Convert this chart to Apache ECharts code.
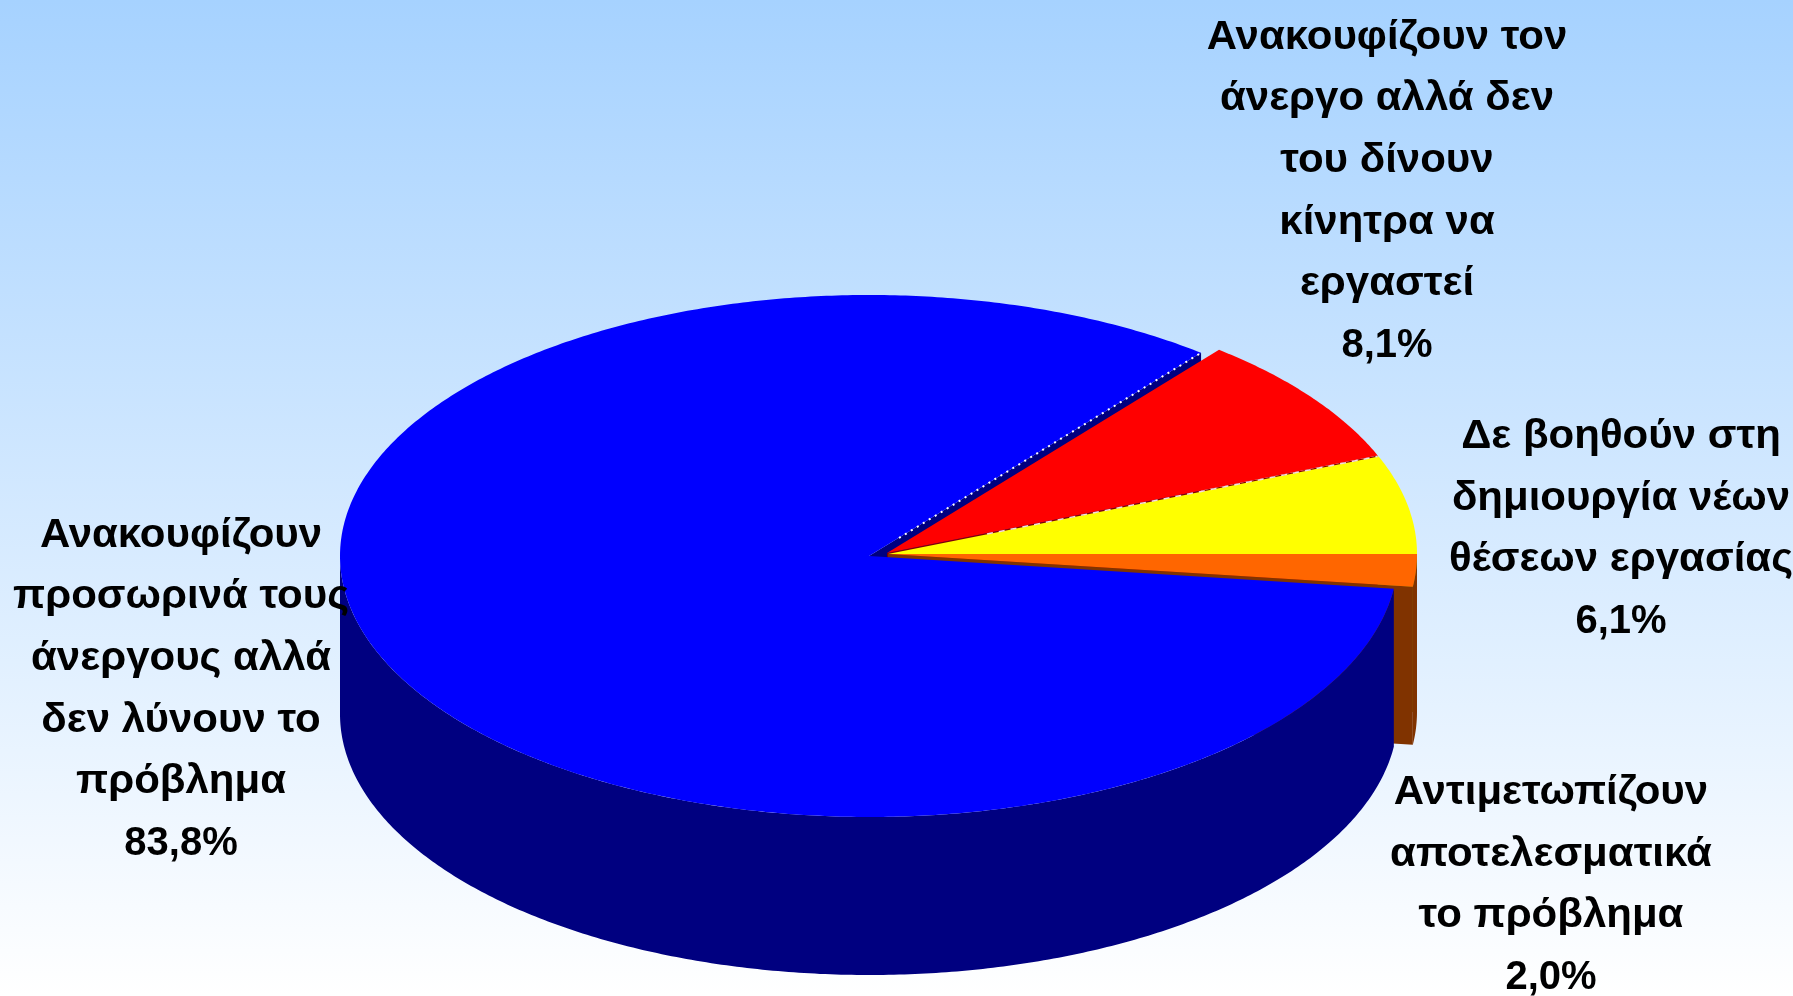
<!DOCTYPE html>
<html><head><meta charset="utf-8">
<style>html,body{margin:0;padding:0;background:#fff}#c{width:1793px;height:996px}</style>
<script src="https://cdn.jsdelivr.net/npm/echarts@6/dist/echarts.min.js"></script>
</head><body><div id="c"></div>
<script>
const categories = [
  'Αντιμετωπίζουν\nαποτελεσματικά\nτο πρόβλημα',
  'Ανακουφίζουν\nπροσωρινά τους\nάνεργους αλλά\nδεν λύνουν το\nπρόβλημα',
  'Ανακουφίζουν τον\nάνεργο αλλά δεν\nτου δίνουν\nκίνητρα να\nεργαστεί',
  'Δε βοηθούν στη\nδημιουργία νέων\nθέσεων εργασίας'
];
const values = [2.0, 83.8, 8.1, 6.1];

// appearance only
const topColors  = ['#ff6600', '#0000ff', '#ff0000', '#ffff00'];
const wallColors = ['#803300', '#000080', '#800000', '#808000'];
const centers = [[888, 554], [869, 556], [887, 553], [888, 554]];
const labelX = [1551, 181, 1387, 1621];
const labelLastLineY = [978, 844, 346, 622];   // centre of the percent line
const LINE = 61.7, RX = 529, RY = 261, DEPTH = 158;

const total = values.reduce((a, b) => a + b, 0);
function sweep(i) {
  let s = 0;
  for (let k = 0; k < i; k++) s += values[k];
  return [s / total * 2 * Math.PI, (s + values[i]) / total * 2 * Math.PI];
}
function rim(c, t, dy) { return [c[0] + RX * Math.cos(t), c[1] + RY * Math.sin(t) + (dy || 0)]; }
function arc(c, a, b, dy) {
  const n = Math.max(2, Math.ceil((b - a) / 0.01)), pts = [];
  for (let k = 0; k <= n; k++) pts.push(rim(c, a + (b - a) * k / n, dy));
  return pts;
}
const empty = { type: 'group', children: [] };
function cutWall(i) {
  const c = centers[i], e = rim(c, sweep(i)[1]);
  return { type: 'polygon', shape: { points: [[c[0], c[1]], e, [e[0], e[1] + DEPTH], [c[0], c[1] + DEPTH]] }, style: { fill: wallColors[i] } };
}
function outerWall(i) {
  const c = centers[i], s = sweep(i), a = s[0], b = Math.min(s[1], Math.PI);
  if (a >= Math.PI) return empty;
  return { type: 'polygon', shape: { points: arc(c, a, b, 0).concat(arc(c, a, b, DEPTH).reverse()) }, style: { fill: wallColors[i] } };
}
function topItem(params) {
  const i = params.dataIndex, c = centers[i], s = sweep(i);
  return { type: 'polygon', shape: { points: [[c[0], c[1]]].concat(arc(c, s[0], s[1], 0)) }, style: { fill: topColors[i] } };
}
function edgeItem(params) {
  const i = params.dataIndex, c = centers[i], s = sweep(i), e = rim(c, s[1]);
  if (i === 1) return { type: 'line', shape: { x1: c[0] + 30, y1: c[1] - 18, x2: e[0], y2: e[1] }, style: { stroke: '#ffffff', lineWidth: 2, lineDash: [2, 5] } };
  if (i === 2) return { type: 'line', shape: { x1: c[0] + 100, y1: c[1] - 19, x2: e[0], y2: e[1] + 1 }, style: { stroke: '#f4dede', lineWidth: 1.5, lineDash: [6, 6] } };
  return empty;
}
function labelItem(params, api) {
  const i = params.dataIndex, x = labelX[i], yLast = labelLastLineY[i];
  const n = categories[i].split('\n').length;
  const pct = api.value(0).toFixed(1).replace('.', ',') + '%';
  const font = 'bold 40px "Liberation Sans", Arial, sans-serif';
  return { type: 'group', children: [
    { type: 'text', x: x, y: yLast - LINE * (n + 1) / 2, scaleX: 1.05, style: {
      text: categories[i], fill: '#000', align: 'center', verticalAlign: 'middle', font: font, lineHeight: LINE } },
    { type: 'text', x: x, y: yLast, style: {
      text: pct, fill: '#000', align: 'center', verticalAlign: 'middle', font: font } }
  ] };
}
const rows = values.map(v => [v]);
function layer(fn, z) { return { type: 'custom', coordinateSystem: 'none', silent: true, animation: false, z: z, data: rows, renderItem: fn, clip: false }; }
const only = (idx, build) => p => p.dataIndex === idx ? build(idx) : empty;

const chart = echarts.init(document.getElementById('c'), null, { renderer: 'canvas' });
chart.setOption({
  animation: false,
  backgroundColor: { type: 'linear', x: 0, y: 0, x2: 0, y2: 1, colorStops: [{ offset: 0, color: '#a6d2ff' }, { offset: 1, color: '#ffffff' }] },
  series: [
    layer(only(1, cutWall), 1),
    layer(only(3, cutWall), 2),
    layer(only(2, cutWall), 3),
    layer(only(0, cutWall), 4),
    layer(only(0, outerWall), 5),
    layer(only(1, outerWall), 6),
    layer(topItem, 7),
    layer(edgeItem, 8),
    layer(labelItem, 9)
  ]
});
</script></body></html>
